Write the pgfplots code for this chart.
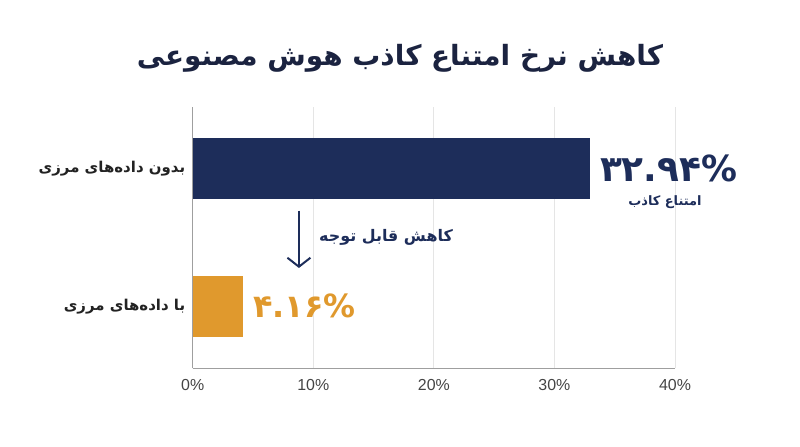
\documentclass[border=0pt]{standalone}
\usepackage{fontspec}
\usepackage{pgfplots}
\pgfplotsset{compat=1.18}
\usetikzlibrary{arrows.meta}
\TeXXeTstate=1
\setmainfont{Liberation Sans}
\newfontfamily\fa[Script=Arabic]{DejaVu Sans}

\definecolor{navy}{HTML}{1D2D5A}
\definecolor{amber}{HTML}{E0992D}
\definecolor{titlec}{HTML}{1B2340}
\definecolor{lbl}{HTML}{222222}
\definecolor{tickc}{HTML}{444444}

\begin{document}
\begin{tikzpicture}
\path[use as bounding box] (0,0) rectangle (800bp,447bp);

% title
\node[text=titlec, font=\fa\bfseries\fontsize{28}{30}\selectfont] at (400bp,389bp)
  {\beginR کاهش نرخ امتناع کاذب هوش مصنوعی\endR};

\begin{axis}[
  at={(192.7bp,78.7bp)}, anchor=south west,
  scale only axis, width=482.3bp, height=261.6bp,
  xbar, bar width=0.444, bar shift=0pt,
  xmin=0, xmax=40, ymin=-0.452, ymax=1.452,
  enlargelimits=false, clip=false,
  xtick={0,10,20,30,40},
  xticklabels={0\%,10\%,20\%,30\%,40\%},
  ytick={0,1},
  yticklabels={{\beginR با داده‌های مرزی\endR},{\beginR بدون داده‌های مرزی\endR}},
  axis x line*=bottom, axis y line*=left,
  axis line style={draw=gray!75, line width=0.9pt, -},
  xmajorgrids, grid style={draw=gray!20, line width=0.9pt},
  major tick length=0pt,
  x tick label style={font=\fontsize{16}{16}\selectfont, text=tickc, yshift=-8bp},
  y tick label style={font=\fa\bfseries\fontsize{15}{15}\selectfont, text=lbl, xshift=-4bp},
  nodes near coords, point meta=explicit symbolic,
  every node near coord/.append style={anchor=west, inner sep=0pt, xshift=10bp},
]
\addplot[fill=navy, draw=none, every node near coord/.append style={text=navy,
    font=\fa\bfseries\fontsize{36}{36}\selectfont}]
  coordinates {(32.94,1) [۳۲.۹۴\%]};
\addplot[fill=amber, draw=none, every node near coord/.append style={text=amber,
    font=\fa\bfseries\fontsize{32}{32}\selectfont}]
  coordinates {(4.16,0) [۴.۱۶\%]};

\node[text=navy, font=\fa\bfseries\fontsize{13}{13}\selectfont] at (axis cs:39.17,0.76)
  {\beginR امتناع کاذب\endR};
\draw[navy, line width=2pt, -{Straight Barb[length=9bp,width=23bp]}]
  (axis cs:8.81,0.695) -- (axis cs:8.81,0.278);
\node[text=navy, font=\fa\bfseries\fontsize{16}{16}\selectfont] at (axis cs:16.03,0.504)
  {\beginR کاهش قابل توجه\endR};
\end{axis}
\end{tikzpicture}
\end{document}
